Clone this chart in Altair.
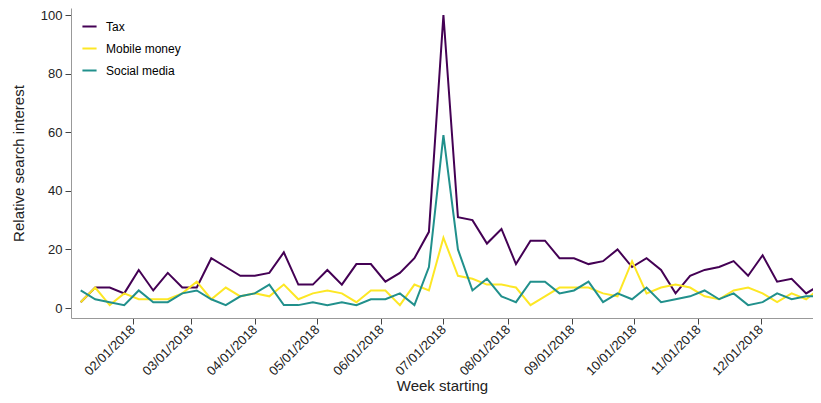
import altair as alt
import pandas as pd

weeks = [d.strftime("%Y-%m-%d") for d in pd.date_range("2018-01-07", periods=52, freq="7D")]

tax = [2, 7, 7, 5, 13, 6, 12, 7, 7, 17, 14, 11, 11, 12, 19, 8, 8, 13, 8, 15, 15, 9, 12, 17, 26,
       100, 31, 30, 22, 27, 15, 23, 23, 17, 17, 15, 16, 20, 14, 17, 13, 5, 11, 13, 14, 16, 11, 18,
       9, 10, 5, 8]
mobile_money = [2, 7, 1, 5, 3, 3, 3, 5, 9, 3, 7, 4, 5, 4, 8, 3, 5, 6, 5, 2, 6, 6, 1, 8, 6,
                24, 11, 10, 8, 8, 7, 1, 4, 7, 7, 7, 5, 4, 16, 5, 7, 8, 7, 4, 3, 6, 7, 5,
                2, 5, 3, 7]
social_media = [6, 3, 2, 1, 6, 2, 2, 5, 6, 3, 1, 4, 5, 8, 1, 1, 2, 1, 2, 1, 3, 3, 5, 1, 14,
                59, 20, 6, 10, 4, 2, 9, 9, 5, 6, 9, 2, 5, 3, 7, 2, 3, 4, 6, 3, 5, 1, 2,
                5, 3, 4, 4]

series_names = ["Tax", "Mobile money", "Social media"]
series_colors = ["#440154", "#FDE725", "#21908C"]

rows = []
for name, vals in zip(series_names, [tax, mobile_money, social_media]):
    for w, v in zip(weeks, vals):
        rows.append({"week": w, "value": v, "term": name})
df = pd.DataFrame(rows)

tick_dates = [alt.DateTime(year=2018, month=m, date=1, utc=True) for m in range(2, 13)]

chart = alt.Chart(df).mark_line(strokeWidth=2, clip=True).encode(
    x=alt.X(
        "week:T",
        scale=alt.Scale(
            type="utc",
            domain=[
                alt.DateTime(year=2018, month=1, date=2, hours=7, minutes=40, utc=True),
                alt.DateTime(year=2018, month=12, date=26, hours=7, minutes=20, utc=True),
            ],
        ),
        axis=alt.Axis(
            values=tick_dates,
            format="%m/%d/%Y",
            labelAngle=-45,
            labelAlign="right",
            labelBaseline="middle",
            labelPadding=3,
            tickSize=6,
            grid=False,
            title="Week starting",
            titleFontSize=15,
            titleFontWeight="normal",
            titlePadding=1,
            labelFontSize=13,
        ),
    ),
    y=alt.Y(
        "value:Q",
        scale=alt.Scale(domain=[-3.4, 102.4], nice=False, zero=False),
        axis=alt.Axis(
            values=[0, 20, 40, 60, 80, 100],
            tickSize=6,
            grid=False,
            title="Relative search interest",
            titleFontSize=15,
            titleFontWeight="normal",
            titlePadding=14,
            labelFontSize=13,
            labelPadding=3,
        ),
    ),
    color=alt.Color(
        "term:N",
        sort=series_names,
        scale=alt.Scale(domain=series_names, range=series_colors),
        legend=alt.Legend(
            title=None,
            orient="none",
            legendX=10,
            legendY=10,
            direction="vertical",
            symbolType="stroke",
            symbolStrokeWidth=2,
            symbolSize=200,
            labelFontSize=12,
            labelOffset=8,
            rowPadding=7,
            padding=0,
        ),
    ),
    order=alt.Order("week:T"),
).properties(
    width=742,
    height=310,
    autosize="none",
    padding={"left": 63, "top": 0, "right": 0, "bottom": 77},
).configure(
    font="Liberation Sans",
).configure_view(
    stroke=None,
).configure_axis(
    domainColor="#999999",
    tickColor="#444444",
    labelColor="#222222",
    titleColor="#222222",
)

chart.save("out.html", embed_options={"renderer": "svg", "actions": False})
